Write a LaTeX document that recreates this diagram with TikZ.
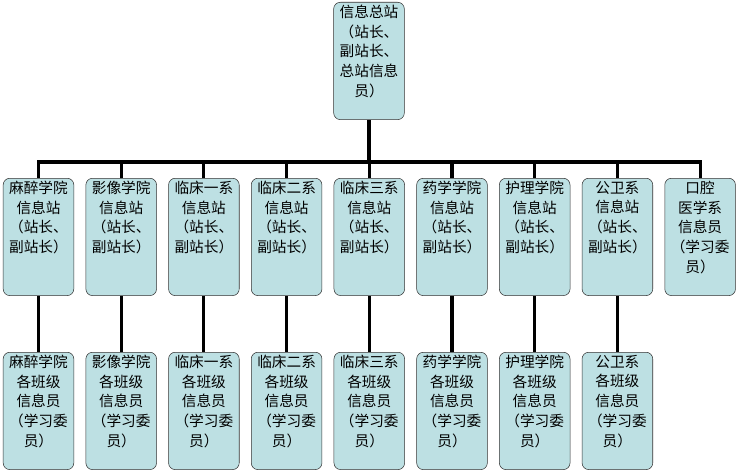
\documentclass[tikz,border=0pt]{standalone}
\usepackage{fontspec}
\setmainfont{Noto Sans CJK SC}
\definecolor{boxfill}{HTML}{BDE0E3}
\tikzset{
  orgbox/.style={draw=black!80,fill=boxfill,rounded corners=5pt,inner sep=0pt,
    font=\fontsize{11}{14.8}\selectfont},
  link/.style={line width=2.3pt}
}
\newcommand{\boxtext}[1]{\parbox[c][88pt][t]{53pt}{\centering\vspace{2pt}#1}}
\begin{document}
\begin{tikzpicture}[x=0.75pt,y=-0.75pt]
\useasboundingbox (0,0) rectangle (738,474);

% top station
\node[orgbox,anchor=north] (top) at (369,2) {\boxtext{信息总站\\（站长、\\副站长、\\总站信息\\员）}};
\coordinate (bus) at (369,162);

% middle and bottom rows
\foreach \i/\mid/\low in {
  0/{麻醉学院\\信息站\\（站长、\\副站长）}/{麻醉学院\\各班级\\信息员\\（学习委\\员）},
  1/{影像学院\\信息站\\（站长、\\副站长）}/{影像学院\\各班级\\信息员\\（学习委\\员）},
  2/{临床一系\\信息站\\（站长、\\副站长）}/{临床一系\\各班级\\信息员\\（学习委\\员）},
  3/{临床二系\\信息站\\（站长、\\副站长）}/{临床二系\\各班级\\信息员\\（学习委\\员）},
  4/{临床三系\\信息站\\（站长、\\副站长）}/{临床三系\\各班级\\信息员\\（学习委\\员）},
  5/{药学学院\\信息站\\（站长、\\副站长）}/{药学学院\\各班级\\信息员\\（学习委\\员）},
  6/{护理学院\\信息站\\（站长、\\副站长）}/{护理学院\\各班级\\信息员\\（学习委\\员）},
  7/{公卫系\\信息站\\（站长、\\副站长）}/{公卫系\\各班级\\信息员\\（学习委\\员）}} {
  \node[orgbox,anchor=north] (m\i) at ({38.5+82.7*\i},178) {\boxtext{\mid}};
  \node[orgbox,anchor=north] (b\i) at ({38.5+82.7*\i},352) {\boxtext{\low}};
  \draw[link] (m\i.south) -- (b\i.north);
}
\node[orgbox,anchor=north] (m8) at ({38.5+82.7*8},178) {\boxtext{口腔\\医学系\\信息员\\（学习委\\员）}};

% connectors
\draw[link] (top.south) -- (bus);
\draw[link] (m0.north) |- (bus) -| (m8.north);
\foreach \i in {1,...,7} \draw[link] (m\i.north) -- (m\i.north |- bus);
\end{tikzpicture}
\end{document}
